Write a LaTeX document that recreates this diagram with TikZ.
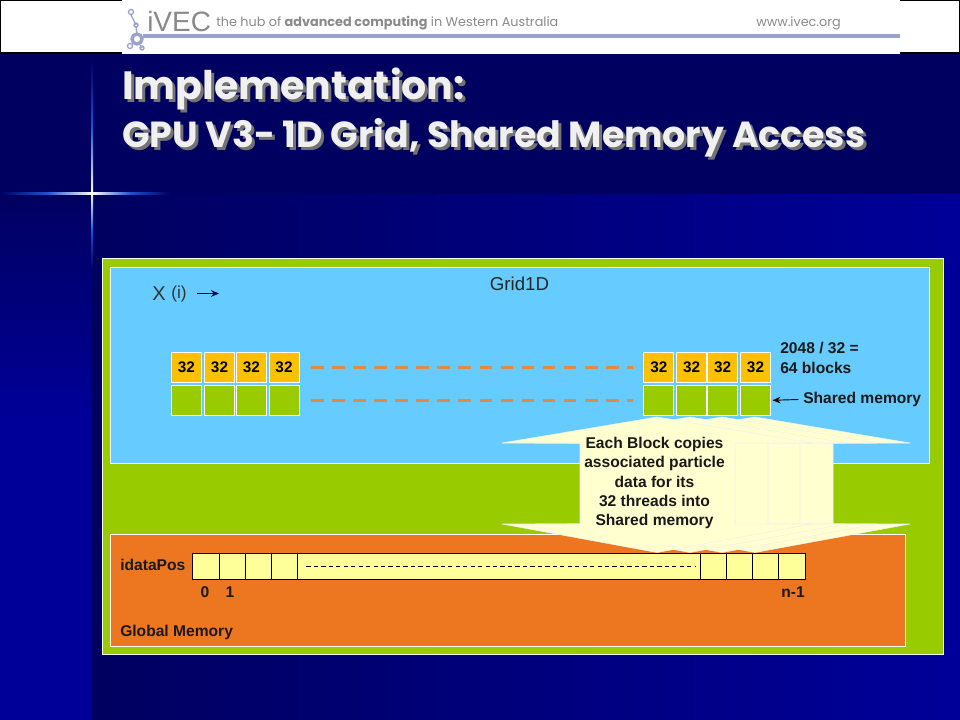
\documentclass[tikz,border=0pt]{standalone}
\usepackage{fontspec}
\setmainfont{Liberation Sans}
\newfontfamily\titlefont{Poppins}
\usetikzlibrary{positioning, arrows.meta}
\definecolor{navyBg}{HTML}{000060}
\definecolor{blueBg}{HTML}{000099}
\definecolor{flareBlue}{HTML}{1A50D0}
\definecolor{limeBox}{HTML}{99CC00}
\definecolor{skyBox}{HTML}{66CCFF}
\definecolor{orangeBox}{HTML}{EC7720}
\definecolor{goldCell}{HTML}{FFC000}
\definecolor{creamCell}{HTML}{FFFF99}
\definecolor{creamArrow}{HTML}{FFFFD0}
\definecolor{dashOrange}{HTML}{E08A4A}
\definecolor{logoGray}{HTML}{8A8A8A}
\definecolor{logoBlue}{HTML}{9AA3D0}
\begin{document}
\begin{tikzpicture}[
    x=0.75pt, y=-0.75pt,
    panel/.style={draw=white, line width=0.6pt},
    block/.style={rectangle, draw=white, line width=0.7pt, outer sep=0, minimum width=22.5pt, minimum height=22.5pt, inner sep=0, font=\bfseries\fontsize{11.5}{13}\selectfont},
    slot/.style={rectangle, draw=black, line width=0.7pt, fill=creamCell, outer sep=0, minimum width=19.5pt, minimum height=19.5pt, inner sep=0},
    lbl/.style={font=\bfseries\fontsize{11.7}{14.5}\selectfont, inner sep=0, text=black!90, align=left},
    dashrow/.style={draw=dashOrange, line width=2.4pt, dash pattern=on 9.5pt off 6.3pt},
    fan/.style={fill=creamArrow, draw=gray!12, line width=0.4pt},
    arr/.style={-{Stealth[length=6pt, width=5pt]}, line width=0.7pt},
    ttl/.style={font=\titlefont\bfseries\fontsize{#1}{32}\selectfont, inner sep=0, anchor=west},
]
    \useasboundingbox (0,0) rectangle (960,720);
    % background
    \fill[navyBg] (0,0) rectangle (960,720);
    \shade[top color=navyBg, bottom color=blueBg] (0,195) rectangle (92,420);
    \fill[blueBg] (0,420) rectangle (92,720);
    \shade[left color=navyBg, right color=blueBg] (92,195) rectangle (960,720);
    \draw[black, fill=white, line width=0.8pt] (0,0) rectangle (960,53);
    \fill[white] (122,0) rectangle (900,54);
    % flare
    \shade[left color=navyBg, right color=white, middle color=flareBlue] (0,192.5) rectangle (92,194.5);
    \shade[left color=white, right color=navyBg, middle color=flareBlue] (92,192.5) rectangle (170,194.5);
    \shade[top color=navyBg, bottom color=white, middle color=flareBlue] (91,60) rectangle (93,193);
    \shade[top color=white, bottom color=navyBg, middle color=flareBlue] (91,193) rectangle (93,270);

    % logo strip
    \draw[logoBlue, line width=1pt] (131,12) circle (2.5) (131,15) -- (136,25) circle (2) (136,27) -- (137,34) (130,46) circle (2.5) (132,44) -- (135,42) (140,45) -- (142,48) circle (2);
    \draw[logoBlue, line width=2.5pt] (137,39) circle (5);
    \node[font=\fontsize{21}{24}\selectfont, text=logoGray, inner sep=0, anchor=west] (logo) at (147,21) {iVEC};
    \node[font=\titlefont\fontsize{9.6}{11}\selectfont, text=logoGray, inner sep=0, anchor=west] (hub) at (216,23) {the hub of \textbf{advanced computing} in Western Australia};
    \node[font=\titlefont\fontsize{9.6}{11}\selectfont, text=logoGray, inner sep=0, anchor=west] (web) at (756,23) {www.ivec.org};
    \fill[logoBlue] (143,34.5) rectangle (900,38.5);

    % title
    \node[ttl=29.6, text=black!55] (shadow1) at (125,92) {Implementation:};
    \node[ttl=29.6, text=white!94!black] (title1) at (122,89) {Implementation:};
    \node[ttl=27.2, text=black!55] (shadow2) at (125,141) {GPU V3- 1D Grid, Shared Memory Access};
    \node[ttl=27.2, text=white!94!black] (title2) at (122,138) {GPU V3- 1D Grid, Shared Memory Access};

    % panels
    \draw[panel, fill=limeBox] (102,258) rectangle (943,654);
    \draw[panel, fill=skyBox] (110,267) rectangle (929,463);
    \draw[panel, fill=orangeBox] (110,534) rectangle (905,646);

    \node[font=\fontsize{14}{16}\selectfont, inner sep=0, text=black!85] (grid) at (519.5,283.5) {Grid1D};
    \node[font=\fontsize{15}{16}\selectfont, inner sep=0, anchor=west, text=black!80] (xlabel) at (152,294) {X};
    \node[font=\fontsize{13}{16}\selectfont, inner sep=0, anchor=west, text=black!80] (ilabel) at (171,294) {(i)};
    \coordinate (xstart) at (197,293.5);
    \coordinate (xend) at (219,293.5);
    \draw[arr, draw=navyBg, fill=navyBg] (xstart) -- (xend);

    % top blocks
    \foreach \i/\x in {1/186.5, 2/219.5, 3/251.3, 4/284} {
        \node[block, fill=goldCell] (a\i) at (\x,367.3) {32};
        \node[block, fill=limeBox] (g\i) at (\x,400.3) {};
    }
    \foreach \i/\x in {1/658.8, 2/691.7, 3/722.7, 4/755.5} {
        \node[block, fill=goldCell] (b\i) at (\x,367.3) {32};
        \node[block, fill=limeBox] (s\i) at (\x,400.3) {};
    }
    \draw[dashrow] ([xshift=9pt]a4.east) -- ([xshift=-8pt]b1.west);
    \draw[dashrow] ([xshift=9pt]g4.east) -- ([xshift=-8pt]s1.west);

    \node[lbl, anchor=west] (count) at (780,358) {2048 / 32 =\\64 blocks};
    \node[lbl, anchor=west] (shared) at (803,399.5) {Shared memory};
    \draw[arr, black] ([xshift=-3.5pt]shared.west) -- ([xshift=1.5pt]s4.east);

    % copy fans
    \foreach \dx in {98,65,33,0} {
        \draw[fan] ({657+\dx},417) -- ({812+\dx},443) -- ({735+\dx},443)
            -- ({735+\dx},524) -- ({812+\dx},524) -- ({657+\dx},552.5) -- ({502+\dx},524)
            -- ({580+\dx},524) -- ({580+\dx},443) -- ({502+\dx},443) -- cycle;
    }

    % global memory
    \node[slot, minimum width=20.25pt, anchor=west] (c0) at (192,566) {};
    \node[slot, right=0pt of c0] (c1) {};
    \node[slot, right=0pt of c1] (c2) {};
    \node[slot, right=0pt of c2] (c3) {};
    \node[slot, right=0pt of c3, minimum width=302.5pt] (cmid) {};
    \node[slot, right=0pt of cmid] (c4) {};
    \node[slot, right=0pt of c4] (c5) {};
    \node[slot, right=0pt of c5] (c6) {};
    \node[slot, right=0pt of c6, minimum width=20pt] (c7) {};
    \draw[black, line width=0.5pt, dash pattern=on 3.2pt off 2.4pt] ([xshift=7pt]cmid.west) -- ([xshift=-3pt]cmid.east);

    \node[lbl, anchor=west] (ida) at (120,565) {idataPos};
    \node[lbl] (i0) at (205,592.5) {0};
    \node[lbl] (i1) at (230,592.5) {1};
    \node[lbl] (ilast) at (793,592.5) {n-1};
    \node[lbl, anchor=west] (gm) at (120,632) {Global Memory};

    \node[lbl, align=center] (copy) at (654.5,483) {Each Block copies\\associated particle\\data for its\\32 threads into\\Shared memory};
\end{tikzpicture}
\end{document}
